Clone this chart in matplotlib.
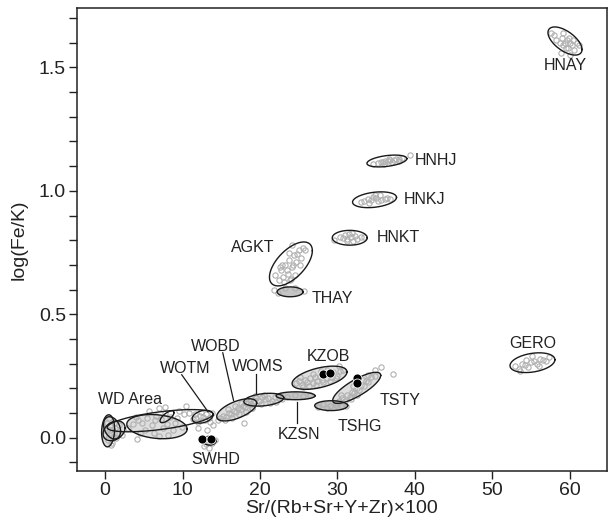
import numpy as np
import matplotlib
matplotlib.use('Agg')
import matplotlib.pyplot as plt

plt.rcParams['font.family'] = ['Liberation Sans', 'DejaVu Sans']

# ellipses: name, centre x, centre y, half extent x, half extent y, correlation, fill
ell_names = ['HNAY', 'HNHJ', 'HNKJ', 'HNKT', 'AGKT', 'THAY', 'GERO', 'KZOB', 'TSTY',
             'TSHG', 'KZSN', 'WOMS', 'WOBD', 'WOTM', 'WD1', 'WD2', 'WD3', 'WD4', 'WD5', 'WD6', 'SWHD']
ell_cx = [59.4, 36.4, 34.8, 31.6, 24.0, 23.9, 55.2, 27.7, 32.5,
          29.2, 24.6, 20.5, 17.0, 12.6, 0.39, 1.16, 0.9, 7.1, 6.7, 8.0, 13.5]
ell_cy = [1.607, 1.121, 0.964, 0.81, 0.704, 0.591, 0.304, 0.243, 0.202,
          0.13, 0.17, 0.154, 0.113, 0.085, 0.028, 0.028, 0.04, 0.069, 0.045, 0.085, -0.012]
ell_sx = [2.2, 2.58, 2.84, 2.26, 2.77, 1.68, 2.9, 3.55, 3.1,
          2.13, 2.52, 2.58, 2.58, 1.35, 0.84, 1.42, 1.1, 6.84, 3.9, 0.9, 0.84]
ell_sy = [0.057, 0.024, 0.032, 0.030, 0.089, 0.020, 0.040, 0.047, 0.063,
          0.020, 0.016, 0.026, 0.045, 0.026, 0.065, 0.040, 0.045, 0.045, 0.049, 0.024, 0.018]
ell_r = [-0.6, 0.4, 0.3, 0.0, 0.6, 0.0, 0.3, 0.5, 0.8,
         0.0, 0.0, 0.3, 0.6, 0.3, 0.1, 0.3, -0.3, 0.6, -0.2, 0.7, 0.0]
# 'none', 'dense' (many overlapping samples) or 'solid'
ell_fill = ['none', 'none', 'none', 'none', 'none', 'solid', 'none', 'dense', 'dense',
            'solid', 'solid', 'dense', 'dense', 'none', 'dense', 'dense', 'dense', 'none', 'dense', 'none', 'solid']

# sample points (grey open circles), by group
pts = {
    'HNAY': ([57.6, 58.0, 58.3, 58.7, 59.0, 59.2, 59.4, 59.6, 59.8, 60.0, 60.3, 60.6, 60.9, 61.2, 59.1, 59.9, 58.9, 60.4, 59.5, 60.1],
             [1.64, 1.63, 1.61, 1.60, 1.62, 1.59, 1.60, 1.61, 1.58, 1.60, 1.59, 1.57, 1.60, 1.59, 1.64, 1.62, 1.56, 1.61, 1.58, 1.55]),
    'HNHJ': ([34.6, 35.2, 35.6, 35.9, 36.2, 36.5, 36.8, 37.0, 37.3, 37.6, 38.0, 38.3, 36.0, 36.7, 37.9, 39.4],
             [1.108, 1.112, 1.118, 1.115, 1.122, 1.120, 1.126, 1.118, 1.124, 1.128, 1.130, 1.132, 1.110, 1.130, 1.122, 1.145]),
    'HNKJ': ([33.0, 33.5, 33.9, 34.3, 34.6, 35.0, 35.3, 35.7, 36.1, 36.4, 34.8, 35.5, 36.8, 34.1],
             [0.955, 0.960, 0.968, 0.962, 0.975, 0.970, 0.958, 0.965, 0.968, 0.972, 0.982, 0.984, 0.966, 0.950]),
    'HNKT': ([29.6, 30.3, 30.7, 31.0, 31.3, 31.5, 31.8, 32.0, 32.3, 32.6, 33.0, 33.5, 31.2, 31.9],
             [0.800, 0.815, 0.808, 0.820, 0.805, 0.825, 0.812, 0.798, 0.818, 0.806, 0.813, 0.815, 0.795, 0.830]),
    'AGKT': ([22.0, 22.4, 22.7, 23.0, 23.3, 23.6, 23.8, 24.1, 24.4, 24.7, 25.0, 25.3, 25.6, 23.1, 23.5, 24.0, 24.3, 24.8, 25.2, 22.9, 23.7, 24.5, 25.8, 23.9, 22.6, 24.2],
             [0.660, 0.640, 0.680, 0.650, 0.700, 0.665, 0.720, 0.690, 0.740, 0.710, 0.760, 0.730, 0.770, 0.630, 0.680, 0.645, 0.700, 0.745, 0.700, 0.700, 0.750, 0.660, 0.760, 0.640, 0.690, 0.780]),
    'THAY': ([21.8, 22.3, 25.7, 24.5, 23.2],
             [0.600, 0.585, 0.595, 0.608, 0.605]),
    'GERO': ([53.0, 53.4, 53.8, 54.2, 54.6, 55.0, 55.4, 55.8, 56.2, 56.6, 57.0, 57.3, 55.2, 54.4, 56.0, 53.6],
             [0.290, 0.280, 0.300, 0.295, 0.285, 0.305, 0.310, 0.300, 0.320, 0.315, 0.310, 0.325, 0.330, 0.315, 0.290, 0.270]),
    'KZOB': ([24.6, 25.0, 25.4, 25.8, 26.1, 26.5, 26.8, 27.1, 27.4, 27.7, 28.0, 28.3, 28.6, 28.9, 29.2, 29.5, 29.9, 30.3, 30.7, 25.6, 26.4, 27.2, 28.1, 29.0, 29.8, 26.9, 27.9, 28.7, 30.2, 25.2],
             [0.220, 0.230, 0.215, 0.235, 0.225, 0.240, 0.220, 0.245, 0.230, 0.250, 0.235, 0.255, 0.240, 0.260, 0.245, 0.265, 0.250, 0.270, 0.275, 0.205, 0.210, 0.215, 0.225, 0.230, 0.240, 0.260, 0.270, 0.275, 0.290, 0.245]),
    'TSTY': ([29.8, 30.2, 30.6, 31.0, 31.3, 31.6, 31.9, 32.2, 32.5, 32.8, 33.1, 33.4, 33.7, 34.0, 34.4, 34.8, 31.1, 31.8, 32.6, 33.3, 30.5, 32.0, 33.9, 35.7, 37.2, 34.9],
             [0.140, 0.150, 0.160, 0.150, 0.175, 0.165, 0.185, 0.180, 0.200, 0.195, 0.215, 0.210, 0.230, 0.225, 0.245, 0.250, 0.130, 0.155, 0.175, 0.235, 0.175, 0.210, 0.255, 0.287, 0.259, 0.275]),
    'TSHG': ([27.5, 28.2, 29.0, 29.8, 30.6, 28.6],
             [0.125, 0.135, 0.128, 0.134, 0.130, 0.120]),
    'KZSN': ([22.6, 23.5, 24.5, 25.5, 26.5],
             [0.170, 0.165, 0.175, 0.168, 0.172]),
    'WOMS': ([18.2, 18.7, 19.1, 19.5, 19.9, 20.3, 20.7, 21.1, 21.5, 21.9, 22.4, 22.9, 19.3, 20.1, 21.3, 22.1, 20.5, 19.0],
             [0.140, 0.150, 0.145, 0.160, 0.150, 0.165, 0.155, 0.160, 0.150, 0.165, 0.160, 0.158, 0.170, 0.138, 0.140, 0.145, 0.175, 0.120]),
    'WOBD': ([14.8, 15.2, 15.6, 16.0, 16.3, 16.6, 16.9, 17.2, 17.5, 17.8, 18.1, 18.4, 18.8, 19.2, 15.5, 16.4, 17.3, 18.2, 19.0, 16.8, 17.6, 14.6, 15.9, 18.0],
             [0.080, 0.090, 0.085, 0.100, 0.095, 0.110, 0.105, 0.120, 0.115, 0.130, 0.125, 0.140, 0.135, 0.150, 0.070, 0.080, 0.095, 0.105, 0.120, 0.130, 0.140, 0.070, 0.115, 0.060]),
    'WOTM': ([11.4, 11.8, 12.2, 12.6, 13.0, 13.4, 13.8, 12.0, 12.9, 13.5, 11.6, 12.4, 12.0, 13.2, 14.0],
             [0.075, 0.080, 0.090, 0.085, 0.095, 0.080, 0.100, 0.065, 0.070, 0.065, 0.095, 0.105, 0.040, 0.030, 0.050]),
    'WD': ([-0.1, 0.2, 0.4, 0.6, 0.8, 1.0, 1.3, 1.6, 0.3, 0.7, 1.1, 0.5, 0.9, 1.4, 0.0, 0.6, 1.2, 1.8, 2.2,
            3.0, 3.6, 4.2, 4.8, 5.4, 6.0, 6.6, 7.2, 7.8, 8.4, 9.0, 9.6, 10.2, 5.1, 6.3, 7.5, 8.1, 8.8, 6.9, 5.7,
            4.5, 7.0, 9.3, 10.8, 8.0, 6.5, 4.0, 9.9, 4.1, 7.7, 10.5],
           [0.010, 0.030, -0.010, 0.050, 0.020, 0.000, 0.040, 0.020, 0.060, -0.030, 0.060, 0.080, -0.020, 0.000, 0.040, 0.030, 0.020, 0.050, 0.010,
            0.040, 0.055, 0.070, 0.060, 0.080, 0.050, 0.090, 0.075, 0.100, 0.085, 0.060, 0.110, 0.095, 0.030, 0.020, 0.040, 0.010, 0.030, 0.005, 0.110,
            0.020, 0.120, 0.080, 0.100, 0.055, 0.070, 0.085, 0.045, -0.005, 0.125, 0.130]),
    'SWHD': ([13.0, 13.8, 14.2, 12.8, 13.4],
             [-0.025, -0.020, -0.010, -0.035, -0.040]),
}

# black highlighted samples
blk_x = [28.1, 29.0, 32.5, 32.5, 12.5, 13.7]
blk_y = [0.259, 0.262, 0.242, 0.222, -0.004, -0.004]

# labels: text, x, y, alignment
lab_text = ['HNAY', 'HNHJ', 'HNKJ', 'HNKT', 'AGKT', 'THAY', 'GERO', 'KZOB', 'TSTY',
            'TSHG', 'KZSN', 'WOMS', 'WOBD', 'WOTM', 'WD Area', 'SWHD']
lab_x = [59.4, 40.0, 38.6, 35.1, 21.9, 26.7, 55.2, 28.8, 35.4,
         32.9, 25.0, 19.7, 14.3, 10.3, 3.2, 14.3]
lab_y = [1.506, 1.121, 0.964, 0.81, 0.769, 0.563, 0.38, 0.328, 0.15,
         0.045, 0.012, 0.287, 0.368, 0.279, 0.154, -0.09]
lab_ha = ['center', 'left', 'left', 'left', 'right', 'left', 'center', 'center', 'left',
          'center', 'center', 'center', 'center', 'center', 'center', 'center']

# leader lines from labels to ellipses
lead_x0 = [9.9, 15.2, 19.5, 24.8]
lead_y0 = [0.255, 0.344, 0.26, 0.061]
lead_x1 = [13.3, 16.6, 19.5, 24.8]
lead_y1 = [0.105, 0.15, 0.182, 0.146]

fig = plt.figure(figsize=(6.08, 5.29), dpi=100)
ax = fig.add_axes([0.127, 0.11, 0.871, 0.875])

fill_col = {'dense': '#dedede', 'solid': '#c4c4c4'}

t = np.linspace(0, 2 * np.pi, 200)
for i in range(len(ell_names)):
    ex = ell_cx[i] + ell_sx[i] * np.cos(t)
    ey = ell_cy[i] + ell_sy[i] * (ell_r[i] * np.cos(t) + np.sqrt(1 - ell_r[i] ** 2) * np.sin(t))
    if ell_fill[i] in fill_col:
        ax.fill(ex, ey, color=fill_col[ell_fill[i]], lw=0, zorder=1)

for name, (px, py) in pts.items():
    ax.plot(px, py, 'o', ms=3.8, mfc='none', mec='#b0b0b0', mew=0.8, zorder=2)

for i in range(len(ell_names)):
    ex = ell_cx[i] + ell_sx[i] * np.cos(t)
    ey = ell_cy[i] + ell_sy[i] * (ell_r[i] * np.cos(t) + np.sqrt(1 - ell_r[i] ** 2) * np.sin(t))
    ax.plot(ex, ey, color='#1a1a1a', lw=1.0, zorder=3)

ax.plot(blk_x, blk_y, 'o', ms=6.5, mfc='black', mec='white', mew=0.6, zorder=4)

for i in range(len(lead_x0)):
    ax.plot([lead_x0[i], lead_x1[i]], [lead_y0[i], lead_y1[i]], color='#1a1a1a', lw=0.9, zorder=3)

for i in range(len(lab_text)):
    ax.text(lab_x[i], lab_y[i], lab_text[i], ha=lab_ha[i], va='center',
            fontsize=11.5, color='#222222')

ax.set_xlim(-3.6, 64.8)
ax.set_ylim(-0.134, 1.741)
ax.set_xticks([0, 10, 20, 30, 40, 50, 60])
yt = np.round(np.arange(-0.1, 1.75, 0.1), 1)
ax.set_yticks(yt)
ax.set_yticklabels(['%.1f' % v if abs(v * 2 - round(v * 2)) < 1e-6 else '' for v in yt])
ax.tick_params(direction='out', length=6, width=1, labelsize=14, colors='#222222', pad=2)
for s in ax.spines.values():
    s.set_linewidth(1.1)
    s.set_color('#222222')
ax.set_xlabel('Sr/(Rb+Sr+Y+Zr)×100', fontsize=14, color='#222222', labelpad=1)
ax.set_ylabel('log(Fe/K)', fontsize=14, color='#222222', labelpad=8)

plt.savefig('out.png', dpi=100)
